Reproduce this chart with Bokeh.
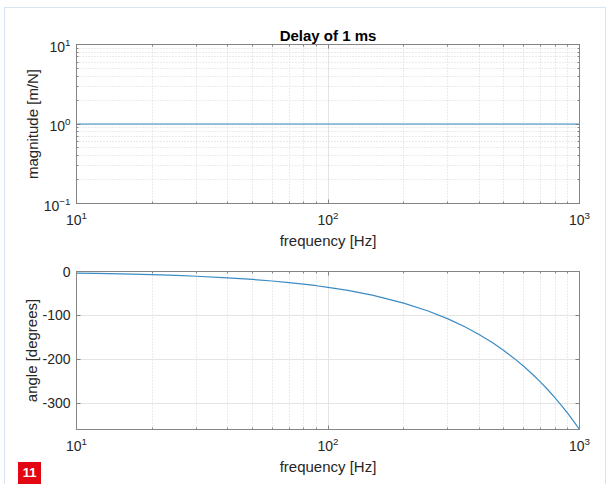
from bokeh.plotting import figure
from bokeh.models import Range1d, FixedTicker, LogAxis, LinearAxis, Div, CustomJSTickFormatter
from bokeh.layouts import column
from bokeh.embed import file_html
from bokeh.resources import INLINE

# ---- data ----
mag_freq = [10, 100, 1000]
magnitude = [1.0, 1.0, 1.0]

phase_freq = [10, 12, 15, 20, 25, 30, 40, 50, 60, 70, 80, 90, 100, 120, 150, 200,
              250, 300, 350, 400, 450, 500, 550, 600, 650, 700, 750, 800, 850, 900, 950, 1000]
phase_deg = [-3.6, -4.3, -5.4, -7.2, -9.0, -10.8, -14.4, -18.0, -21.6, -25.2, -28.8, -32.4,
             -36.0, -43.2, -54.0, -72.0, -90.0, -108.0, -126.0, -144.0, -162.0, -180.0,
             -198.0, -216.0, -234.0, -252.0, -270.0, -288.0, -306.0, -324.0, -342.0, -360.0]

freq_ticks = [10, 100, 1000]
freq_minor = [20, 30, 40, 50, 60, 70, 80, 90, 200, 300, 400, 500, 600, 700, 800, 900]
mag_ticks = [0.1, 1, 10]
mag_minor = [0.2, 0.3, 0.4, 0.5, 0.6, 0.7, 0.8, 0.9, 2, 3, 4, 5, 6, 7, 8, 9]
phase_ticks = [-300, -200, -100, 0]

title_text = "Delay of 1 ms"
xlabel = "frequency [Hz]"
ylabel_mag = "magnitude [m/N]"
ylabel_phase = "angle [degrees]"
badge_text = "11"

# ---- style ----
FONT = "Liberation Sans"
AX = "#858585"
TXT = "#262626"
LINE = "#3a8cc4"
GRID = "#e4e4e4"
MINOR = "#d6d6d6"
FRAME = "#d9e4f2"
W = 600
H1, H2 = 247, 229


def style_axis(ax, standoff, label_standoff=4):
    ax.axis_line_color = AX
    ax.major_tick_line_color = AX
    ax.minor_tick_line_color = AX
    ax.major_tick_in = 4
    ax.major_tick_out = 0
    ax.minor_tick_in = 2
    ax.minor_tick_out = 0
    ax.major_label_text_font = FONT
    ax.major_label_text_font_size = "14px"
    ax.major_label_text_color = TXT
    ax.major_label_standoff = standoff
    ax.axis_label_text_font = FONT
    ax.axis_label_text_font_size = "15px"
    ax.axis_label_text_font_style = "normal"
    ax.axis_label_text_color = TXT
    ax.axis_label_standoff = label_standoff


def box_axis(cls, ticker):
    ax = cls(ticker=ticker, formatter=CustomJSTickFormatter(code="return ''"))
    style_axis(ax, 0, 0)
    ax.major_label_text_font_size = "0px"
    return ax


def style_grid(g, minor):
    g.grid_line_color = GRID
    g.grid_line_width = 1
    if minor:
        g.minor_grid_line_color = MINOR
        g.minor_grid_line_dash = "1 2"
    else:
        g.minor_grid_line_color = None


def make_fig(height, ytype, yrange, top, bottom):
    p = figure(width=W, height=height, x_axis_type="log", y_axis_type=ytype,
               x_range=Range1d(10, 1000), y_range=yrange,
               output_backend="svg", toolbar_location=None,
               min_border_left=71, min_border_right=26,
               min_border_top=top, min_border_bottom=bottom)
    p.background_fill_color = "white"
    p.border_fill_color = "white"
    p.outline_line_color = AX
    return p


# ---- magnitude plot ----
p1 = make_fig(H1, "log", Range1d(0.1, 10), 36, 52)
xt1 = FixedTicker(ticks=freq_ticks, minor_ticks=freq_minor)
yt1 = FixedTicker(ticks=mag_ticks, minor_ticks=mag_minor)
p1.xaxis.ticker = xt1
p1.yaxis.ticker = yt1
p1.xgrid.ticker = xt1
p1.ygrid.ticker = yt1
style_axis(p1.xaxis[0], 7)
style_axis(p1.yaxis[0], 6, 0)
p1.xaxis.axis_label = xlabel
p1.yaxis.axis_label = ylabel_mag
style_grid(p1.xgrid[0], True)
style_grid(p1.ygrid[0], True)
p1.add_layout(box_axis(LogAxis, xt1), "above")
p1.add_layout(box_axis(LogAxis, yt1), "right")
p1.line(mag_freq, magnitude, line_color=LINE, line_width=1.2)
p1.title.text = title_text
p1.title.text_font = FONT
p1.title.text_font_size = "15px"
p1.title.text_font_style = "bold"
p1.title.text_color = "black"
p1.title.align = "center"
p1.title.standoff = 2

# ---- phase plot ----
p2 = make_fig(H2, "linear", Range1d(-360, 0), 16, 55)
xt2 = FixedTicker(ticks=freq_ticks, minor_ticks=freq_minor)
yt2 = FixedTicker(ticks=phase_ticks, minor_ticks=[])
p2.xaxis.ticker = xt2
p2.yaxis.ticker = yt2
p2.xgrid.ticker = xt2
p2.ygrid.ticker = yt2
style_axis(p2.xaxis[0], 7)
style_axis(p2.yaxis[0], 6, -1)
p2.yaxis.formatter = CustomJSTickFormatter(code="return tick.toFixed(0)")
p2.xaxis.axis_label = xlabel
p2.yaxis.axis_label = ylabel_phase
style_grid(p2.xgrid[0], True)
style_grid(p2.ygrid[0], False)
p2.add_layout(box_axis(LogAxis, xt2), "above")
p2.add_layout(box_axis(LinearAxis, yt2), "right")
p2.line(phase_freq, phase_deg, line_color=LINE, line_width=1.2)

badge = Div(text=badge_text, width=23, height=22, margin=(-22, 0, 0, 13),
            styles={"background-color": "#e30613", "color": "white",
                    "font-family": FONT, "font-size": "13px", "font-weight": "bold",
                    "text-align": "center", "line-height": "22px"})

root = column(p1, p2, badge, margin=(7, 0, 0, 4),
              styles={"border-left": f"1px solid {FRAME}",
                      "border-top": f"1px solid {FRAME}",
                      "border-right": f"1px solid {FRAME}"})

open("out.html", "w").write(file_html(root, INLINE))
